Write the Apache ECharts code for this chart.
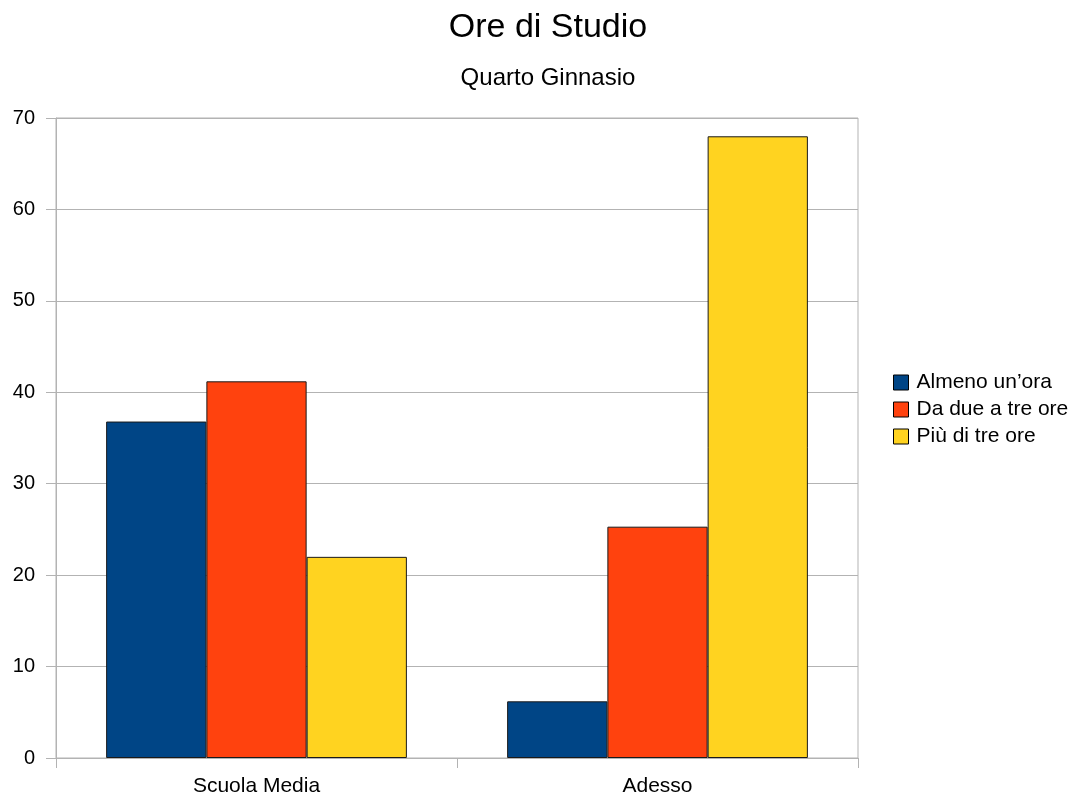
<!DOCTYPE html>
<html>
<head>
<meta charset="utf-8">
<script src="https://cdn.jsdelivr.net/npm/echarts@6/dist/echarts.min.js"></script>
<style>
html,body{margin:0;padding:0;background:#fff;}
#chart{width:1078px;height:801px;}
</style>
</head>
<body>
<div id="chart"></div>
<script>
const titleText = 'Ore di Studio';
const subtitleText = 'Quarto Ginnasio';
const categories = ['Scuola Media', 'Adesso'];
const seriesNames = ['Almeno un\u2019ora', 'Da due a tre ore', 'Pi\u00f9 di tre ore'];
const almenoUnOra = [36.8, 6.2];
const daDueATreOre = [41.2, 25.3];
const piuDiTreOre = [22.0, 68.0];
const colors = ['#004586', '#ff420e', '#ffd320'];

const seriesData = [almenoUnOra, daDueATreOre, piuDiTreOre];
const font = 'Liberation Sans, Arial, sans-serif';

const chart = echarts.init(document.getElementById('chart'), null, {renderer: 'canvas'});
chart.setOption({
  animation: false,
  backgroundColor: '#ffffff',
  title: [
    {text: titleText, left: 543, top: 6, textAlign: 'center',
     textStyle: {fontFamily: font, fontSize: 34, fontWeight: 'normal', color: '#000'}},
    {text: subtitleText, left: 543, top: 61, textAlign: 'center',
     textStyle: {fontFamily: font, fontSize: 24, fontWeight: 'normal', color: '#000'}}
  ],
  legend: {
    orient: 'vertical',
    left: 888,
    top: 367,
    itemWidth: 15,
    itemHeight: 15,
    itemGap: 6,
    icon: 'rect',
    data: seriesNames,
    textStyle: {fontFamily: font, fontSize: 21, color: '#000', padding: [0,0,0,3]},
    itemStyle: {borderColor: '#000', borderWidth: 1}
  },
  grid: {
    left: 56, right: 220, top: 118, bottom: 43,
    show: true, borderColor: '#b3b3b3', borderWidth: 1, containLabel: false
  },
  xAxis: {
    type: 'category',
    data: categories,
    axisLine: {lineStyle: {color: '#b3b3b3'}},
    axisTick: {show: true, length: 10, lineStyle: {color: '#b3b3b3'}},
    axisLabel: {fontFamily: font, fontSize: 21, color: '#000', margin: 18}
  },
  yAxis: {
    type: 'value',
    min: 0, max: 70, interval: 10,
    axisLine: {show: true, lineStyle: {color: '#b3b3b3'}},
    axisTick: {show: true, length: 10, lineStyle: {color: '#b3b3b3'}},
    splitLine: {lineStyle: {color: '#b3b3b3'}},
    axisLabel: {fontFamily: font, fontSize: 20, color: '#000', margin: 21}
  },
  series: seriesNames.map((name, i) => ({
    name: name,
    type: 'bar',
    data: seriesData[i],
    barGap: '0%',
    barCategoryGap: '25%',
    itemStyle: {color: colors[i], borderColor: '#1a1a1a', borderWidth: 1}
  }))
});
</script>
</body>
</html>
